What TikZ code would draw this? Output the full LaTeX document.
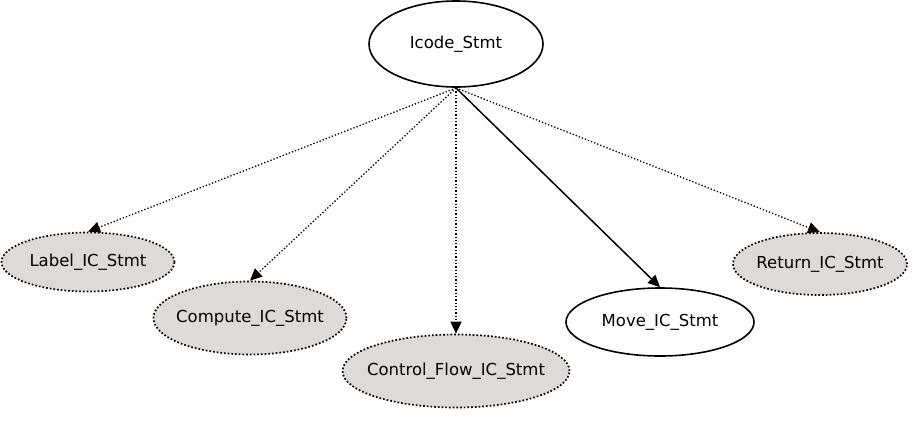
\documentclass[tikz,border=0pt]{standalone}
\usepackage{fontspec}
\setmainfont{DejaVu Sans}
\usetikzlibrary{shapes.geometric,arrows.meta}
\definecolor{nodegray}{RGB}{221,218,216}
\newcommand{\ctext}[1]{\makebox[0pt][c]{#1}}
\begin{document}
\begin{tikzpicture}[x=1pt,y=-1pt,
  base/.style={ellipse,inner sep=0pt,font=\fontsize{16.5}{19}\selectfont},
  plainnode/.style={base,draw,line width=1.6pt,fill=white},
  graynode/.style={base,draw,dotted,line width=1.7pt,fill=nodegray},
  link/.style={dotted,line width=1.3pt,-{Triangle[length=12pt,width=11pt]}},
  solidlink/.style={line width=1.5pt,-{Triangle[length=12pt,width=11pt]}}]
\useasboundingbox (0,0) rectangle (918,421);
\node[plainnode,minimum width=174pt,minimum height=86pt] (icode) at (456,44) {\ctext{Icode\_Stmt}};
\node[graynode,minimum width=173pt,minimum height=59pt] (label) at (88,262) {\ctext{Label\_IC\_Stmt}};
\node[graynode,minimum width=193pt,minimum height=73pt] (compute) at (250,318) {\ctext{Compute\_IC\_Stmt}};
\node[graynode,minimum width=227pt,minimum height=73pt] (control) at (456,371) {\ctext{Control\_Flow\_IC\_Stmt}};
\node[plainnode,minimum width=188pt,minimum height=68pt] (move) at (660,322) {\ctext{Move\_IC\_Stmt}};
\node[graynode,minimum width=174pt,minimum height=62pt] (return) at (820,264) {\ctext{Return\_IC\_Stmt}};
\coordinate (src) at (456,88);
\draw[link] (src) -- (label.north);
\draw[link] (src) -- (compute.north);
\draw[link] (src) -- (control.north);
\draw[solidlink] (src) -- (move.north);
\draw[link] (src) -- (return.north);
\end{tikzpicture}
\end{document}
